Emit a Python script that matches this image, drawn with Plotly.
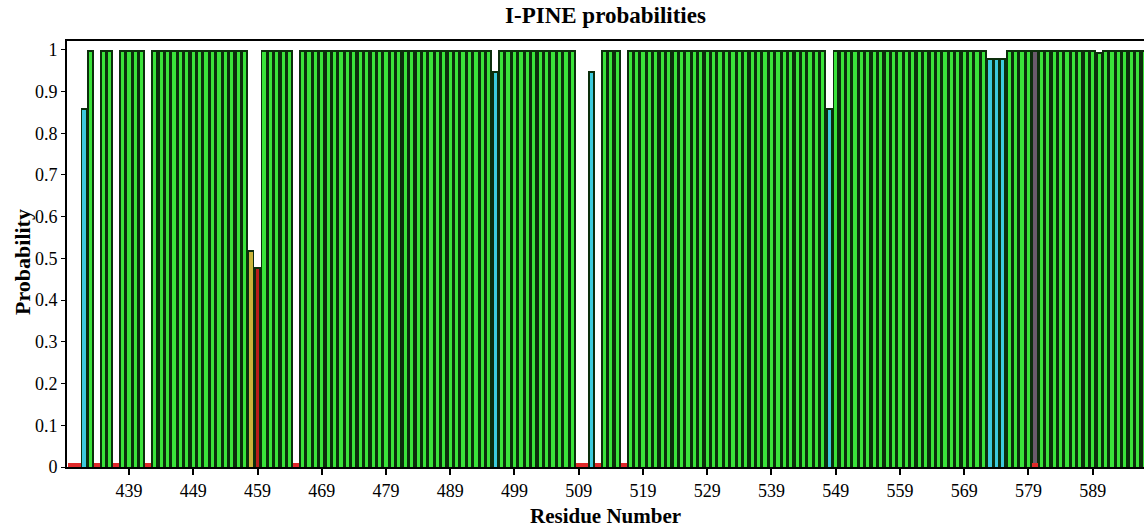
import plotly.graph_objects as go

# Residue numbers and I-PINE assignment probability for each residue
residues = list(range(430, 598))
probability = [
    0.01, 0.01, 0.86, 1.0, 0.01, 1.0, 1.0, 0.01, 1.0, 1.0,          # 430-439
    1.0, 1.0, 0.01, 1.0, 1.0, 1.0, 1.0, 1.0, 1.0, 1.0,              # 440-449
    1.0, 1.0, 1.0, 1.0, 1.0, 1.0, 1.0, 1.0, 0.52, 0.48,             # 450-459
    1.0, 1.0, 1.0, 1.0, 1.0, 0.01, 1.0, 1.0, 1.0, 1.0,              # 460-469
    1.0, 1.0, 1.0, 1.0, 1.0, 1.0, 1.0, 1.0, 1.0, 1.0,               # 470-479
    1.0, 1.0, 1.0, 1.0, 1.0, 1.0, 1.0, 1.0, 1.0, 1.0,               # 480-489
    1.0, 1.0, 1.0, 1.0, 1.0, 1.0, 0.95, 1.0, 1.0, 1.0,              # 490-499
    1.0, 1.0, 1.0, 1.0, 1.0, 1.0, 1.0, 1.0, 1.0, 0.01,              # 500-509
    0.01, 0.95, 0.01, 1.0, 1.0, 1.0, 0.01, 1.0, 1.0, 1.0,           # 510-519
    1.0, 1.0, 1.0, 1.0, 1.0, 1.0, 1.0, 1.0, 1.0, 1.0,               # 520-529
    1.0, 1.0, 1.0, 1.0, 1.0, 1.0, 1.0, 1.0, 1.0, 1.0,               # 530-539
    1.0, 1.0, 1.0, 1.0, 1.0, 1.0, 1.0, 1.0, 0.86, 1.0,              # 540-549
    1.0, 1.0, 1.0, 1.0, 1.0, 1.0, 1.0, 1.0, 1.0, 1.0,               # 550-559
    1.0, 1.0, 1.0, 1.0, 1.0, 1.0, 1.0, 1.0, 1.0, 1.0,               # 560-569
    1.0, 1.0, 1.0, 0.98, 0.98, 0.98, 1.0, 1.0, 1.0, 1.0,            # 570-579
    0.01, 1.0, 1.0, 1.0, 1.0, 1.0, 1.0, 1.0, 1.0, 1.0,              # 580-589
    0.995, 1.0, 1.0, 1.0, 1.0, 1.0, 1.0, 1.0,                       # 590-597
]

# Residue whose remaining probability goes to an alternative state
alt_residues = [580]
alt_probability = [0.99]

x_tick_values = list(range(439, 590, 10))
y_tick_values = [i / 10 for i in range(11)]
y_tick_text = ["0", "0.1", "0.2", "0.3", "0.4", "0.5", "0.6", "0.7", "0.8", "0.9", "1"]

GREEN = "#3ae33a"
CYAN = "#3ccadd"
YELLOW = "#c9b43a"
RED = "#b81c1c"
LOW_RED = "#e02a2a"
ALT = "#6a5a6c"
OUTLINE = "#0c2e0c"

FILL_WIDTH = 0.5       # bright fill inside each bar's dark outline
TOP_INSET = 0.005      # outline thickness on top of each bar (probability units)


def bar_colour(p):
    if p >= 0.99:
        return GREEN
    if p >= 0.85:
        return CYAN
    if p >= 0.5:
        return YELLOW
    if p >= 0.1:
        return RED
    return LOW_RED


# total height per residue (assigned + alternative state)
totals = list(probability)
for r, p in zip(alt_residues, alt_probability):
    totals[residues.index(r)] += p

outlined_x = [r for r, t in zip(residues, totals) if t >= 0.1]
outlined_y = [t for t in totals if t >= 0.1]

fill_y = [p - TOP_INSET if p >= 0.1 else p for p in probability]
fill_w = [FILL_WIDTH if p >= 0.1 else 1.0 for p in probability]
fill_c = [bar_colour(p) for p in probability]

alt_base = [probability[residues.index(r)] for r in alt_residues]
alt_y = [p - TOP_INSET for p in alt_probability]

fig = go.Figure()
# dark outline body of each bar
fig.add_trace(go.Bar(
    x=outlined_x, y=outlined_y, width=1.0,
    marker=dict(color=OUTLINE, line=dict(width=0)),
    showlegend=False,
))
# coloured fill of each bar
fig.add_trace(go.Bar(
    x=residues, y=fill_y, width=fill_w,
    marker=dict(color=fill_c, line=dict(width=0)),
    showlegend=False,
))
# alternative-state part
fig.add_trace(go.Bar(
    x=alt_residues, y=alt_y, base=alt_base, width=FILL_WIDTH,
    marker=dict(color=ALT, line=dict(width=0)),
    showlegend=False,
))

serif = "Liberation Serif"

fig.update_layout(
    width=1144,
    height=531,
    margin=dict(l=67, r=0, t=41, b=64),
    paper_bgcolor="white",
    plot_bgcolor="white",
    barmode="overlay",
    bargap=0,
    font=dict(family=serif, size=18, color="black"),
    title=dict(
        text="<b>I-PINE probabilities</b>",
        font=dict(family=serif, size=23, color="black"),
        x=0.5, xref="paper", xanchor="center",
        y=1 - 15 / 531, yref="container", yanchor="middle",
    ),
    xaxis=dict(
        range=[429.35, 596.98],
        tickvals=x_tick_values,
        ticks="outside", ticklen=6, tickwidth=1.5, tickcolor="black",
        showline=True, linewidth=2, linecolor="black", mirror=True,
        showgrid=False, zeroline=False,
        tickfont=dict(family=serif, size=18),
    ),
    yaxis=dict(
        range=[0, 1.021],
        tickvals=y_tick_values, ticktext=y_tick_text,
        ticks="outside", ticklen=4, tickwidth=1.2, tickcolor="black",
        showline=True, linewidth=2, linecolor="black",
        showgrid=False, zeroline=False,
        tickfont=dict(family=serif, size=18),
    ),
    annotations=[
        dict(text="<b>Residue Number</b>", x=0.5, y=(467 - 516) / 426, xref="paper", yref="paper",
             xanchor="center", yanchor="middle", showarrow=False,
             font=dict(family=serif, size=21, color="black")),
        dict(text="<b>Probability</b>", x=(22 - 67) / 1077, y=(467 - 262) / 426, xref="paper", yref="paper",
             xanchor="center", yanchor="middle", textangle=-90, showarrow=False,
             font=dict(family=serif, size=22, color="black")),
    ],
)

fig.write_html("out.html")
